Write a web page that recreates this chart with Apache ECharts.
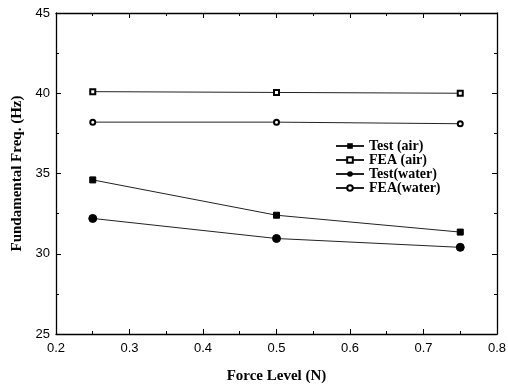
<!DOCTYPE html>
<html>
<head>
<meta charset="utf-8">
<script src="https://cdn.jsdelivr.net/npm/echarts@6/dist/echarts.min.js"></script>
<style>
  html, body { margin: 0; padding: 0; background: #fff; }
  #chart { width: 508px; height: 385px; }
</style>
</head>
<body>
<div id="chart"></div>
<script>
const forceLevels = [0.25, 0.5, 0.75];
const testAir = [34.6, 32.4, 31.35];
const feaAir = [40.1, 40.05, 40.0];
const testWater = [32.2, 30.95, 30.4];
const feaWater = [38.2, 38.2, 38.1];

const chart = echarts.init(document.getElementById("chart"));

function pairs(vals) {
  return forceLevels.map((x, i) => [x, vals[i]]);
}

const tickStyle = { lineStyle: { color: "#000", width: 1 } };
function frameX(pos, show) {
  return {
    type: "value", position: pos, min: 0.2, max: 0.8, interval: 0.1,
    axisLine: { show: true, lineStyle: { color: "#000", width: 1.3 } },
    axisTick: { show: true, inside: true, length: 5, ...tickStyle },
    minorTick: { show: true, splitNumber: 2, length: 3, ...tickStyle },
    splitLine: { show: false },
    axisLabel: {
      show: show, color: "#000", fontFamily: "Liberation Sans", fontSize: 13, margin: 8,
      formatter: (v) => v.toFixed(1)
    }
  };
}
function frameY(pos, show) {
  return {
    type: "value", position: pos, min: 25, max: 45, interval: 5,
    axisLine: { show: true, lineStyle: { color: "#000", width: 1.3 } },
    axisTick: { show: true, inside: true, length: 5, ...tickStyle },
    minorTick: { show: true, splitNumber: 2, length: 3, ...tickStyle },
    splitLine: { show: false },
    axisLabel: { show: show, color: "#000", fontFamily: "Liberation Sans", fontSize: 13, margin: 6 }
  };
}

const xMain = frameX("bottom", true);
xMain.name = "Force Level (N)";
xMain.nameLocation = "middle";
xMain.nameGap = 35;
xMain.nameTextStyle = { color: "#000", fontFamily: "Liberation Serif", fontWeight: "bold", fontSize: 15 };
const yMain = frameY("left", true);
yMain.name = "Fundamental Freq. (Hz)";
yMain.nameLocation = "middle";
yMain.nameGap = 29;
yMain.nameTextStyle = { color: "#000", fontFamily: "Liberation Serif", fontWeight: "bold", fontSize: 15 };

const lineStyle = { color: "#222", width: 1 };

let option = {
  animation: false,
  grid: { left: 56, right: 11, top: 13, bottom: 51, outerBoundsMode: "none" },
  xAxis: [xMain, frameX("top", false)],
  yAxis: [yMain, frameY("right", false)],
  legend: {
    orient: "vertical",
    left: 330,
    top: 134,
    itemWidth: 28,
    itemHeight: 7,
    itemGap: 0,
    textStyle: { color: "#000", fontFamily: "Liberation Serif", fontWeight: "bold", fontSize: 14, lineHeight: 13.5 },
    data: ["Test (air)", "FEA (air)", "Test(water)", "FEA(water)"]
  },
  series: [
    {
      name: "Test (air)", type: "line", data: pairs(testAir),
      symbol: "rect", symbolSize: 6, lineStyle: lineStyle,
      itemStyle: { color: "#000", borderColor: "#000" }
    },
    {
      name: "FEA (air)", type: "line", data: pairs(feaAir),
      symbol: "emptyRect", symbolSize: 5, lineStyle: lineStyle,
      itemStyle: { color: "#000", borderColor: "#000", borderWidth: 0.8 }
    },
    {
      name: "Test(water)", type: "line", data: pairs(testWater),
      symbol: "circle", symbolSize: 8, lineStyle: lineStyle,
      itemStyle: { color: "#000", borderColor: "#000" }
    },
    {
      name: "FEA(water)", type: "line", data: pairs(feaWater),
      symbol: "emptyCircle", symbolSize: 5, lineStyle: lineStyle,
      itemStyle: { color: "#000", borderColor: "#000", borderWidth: 0.8 }
    }
  ]
};

chart.setOption(option);
</script>
</body>
</html>
